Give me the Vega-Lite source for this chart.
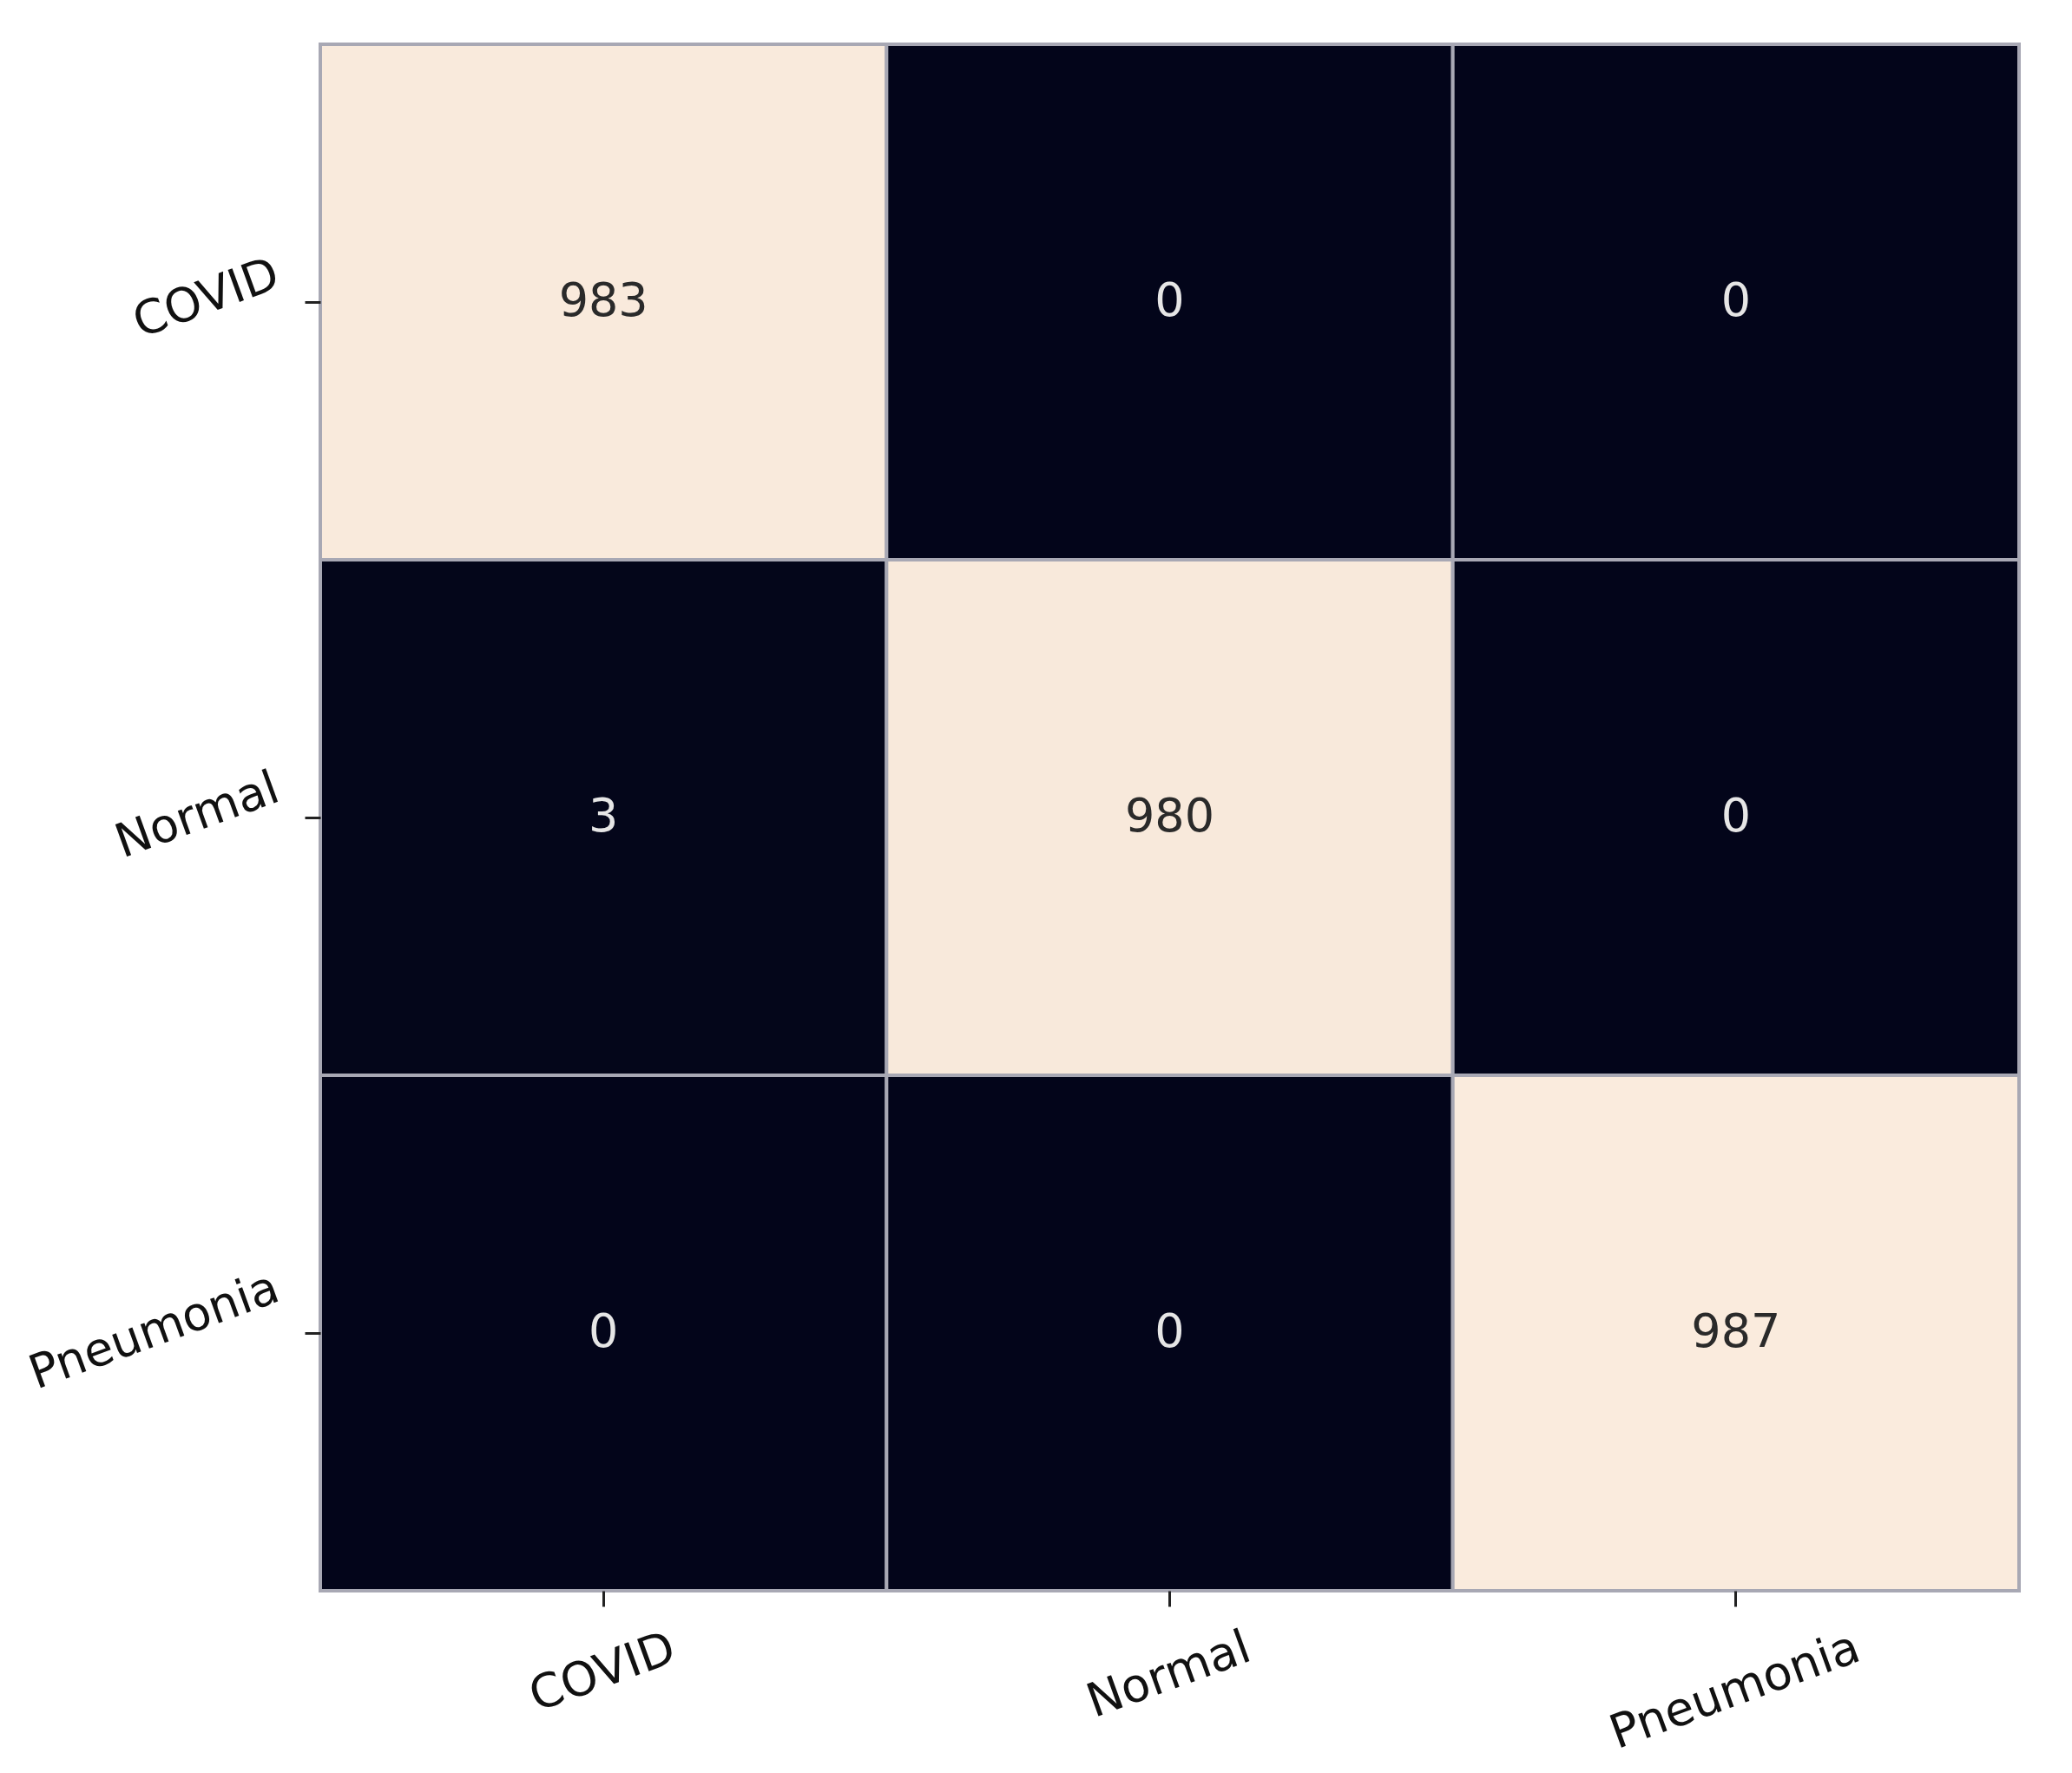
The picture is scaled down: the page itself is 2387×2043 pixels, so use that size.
{
  "$schema": "https://vega.github.io/schema/vega-lite/v6.json",
  "width": 1957,
  "height": 1782,
  "padding": {"left": 26, "top": 49, "right": 5, "bottom": 5},
  "background": "white",
  "data": {
    "values": [
      {"actual": "COVID", "predicted": "COVID", "count": 983},
      {"actual": "COVID", "predicted": "Normal", "count": 0},
      {"actual": "COVID", "predicted": "Pneumonia", "count": 0},
      {"actual": "Normal", "predicted": "COVID", "count": 3},
      {"actual": "Normal", "predicted": "Normal", "count": 980},
      {"actual": "Normal", "predicted": "Pneumonia", "count": 0},
      {"actual": "Pneumonia", "predicted": "COVID", "count": 0},
      {"actual": "Pneumonia", "predicted": "Normal", "count": 0},
      {"actual": "Pneumonia", "predicted": "Pneumonia", "count": 987}
    ]
  },
  "encoding": {
    "x": {
      "field": "predicted",
      "type": "nominal",
      "sort": ["COVID", "Normal", "Pneumonia"],
      "scale": {"paddingInner": 0, "paddingOuter": 0},
      "axis": {
        "title": null,
        "orient": "bottom",
        "domain": false,
        "grid": false,
        "ticks": true,
        "tickSize": 18,
        "tickWidth": 3,
        "tickColor": "#222222",
        "labelAngle": -20,
        "labelAlign": "center",
        "labelBaseline": "top",
        "labelFont": "DejaVu Sans",
        "labelFontSize": 54,
        "labelColor": "#111111",
        "labelOverlap": false,
        "labelBound": false,
        "labelLimit": 0,
        "labelOffset": -10,
        "labelPadding": {
          "condition": [
            {"test": "datum.value === 'Pneumonia'", "value": 72},
            {"test": "datum.value === 'Normal'", "value": 54}
          ],
          "value": 51
        }
      }
    },
    "y": {
      "field": "actual",
      "type": "nominal",
      "sort": ["COVID", "Normal", "Pneumonia"],
      "scale": {"paddingInner": 0, "paddingOuter": 0},
      "axis": {
        "title": null,
        "orient": "left",
        "domain": false,
        "grid": false,
        "ticks": true,
        "tickSize": 18,
        "tickWidth": 3,
        "tickColor": "#222222",
        "labelAngle": -20,
        "labelAlign": "right",
        "labelBaseline": "middle",
        "labelFont": "DejaVu Sans",
        "labelFontSize": 54,
        "labelColor": "#111111",
        "labelOverlap": false,
        "labelBound": false,
        "labelLimit": 0,
        "labelPadding": 32,
        "labelOffset": {
          "condition": [
            {"test": "datum.value === 'Pneumonia'", "value": -53},
            {"test": "datum.value === 'Normal'", "value": -35}
          ],
          "value": -33
        }
      }
    }
  },
  "layer": [
    {
      "mark": {"type": "rect", "stroke": "#a8a8b4", "strokeWidth": 4},
      "encoding": {
        "color": {
          "field": "count",
          "type": "quantitative",
          "scale": {"domain": [0, 987], "range": ["#03051a", "#faebdd"]},
          "legend": null
        }
      }
    },
    {
      "mark": {"type": "text", "font": "DejaVu Sans", "fontSize": 54, "baseline": "middle", "align": "center"},
      "encoding": {
        "text": {"field": "count", "type": "quantitative"},
        "color": {
          "condition": {"test": "datum.count > 500", "value": "#2a2a2a"},
          "value": "#e6e6e6"
        }
      }
    }
  ],
  "config": {"view": {"stroke": null}}
}
